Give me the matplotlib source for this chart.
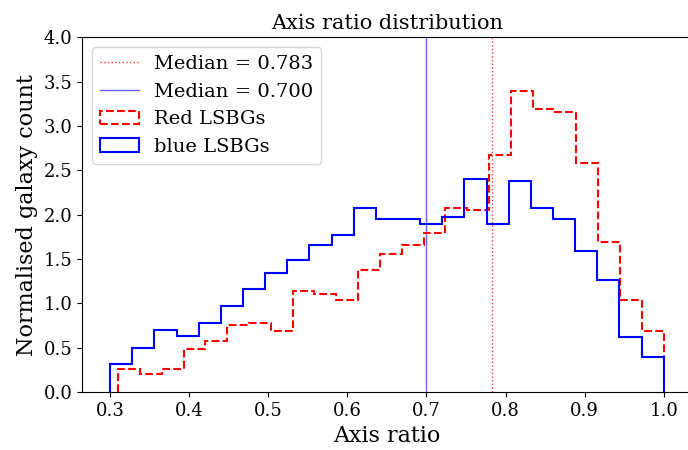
import numpy as np
import matplotlib
matplotlib.use("Agg")
import matplotlib.pyplot as plt

plt.rcParams["font.family"] = ["DejaVu Serif"]

# normalised histogram heights, 25 bins each
blue_lo, blue_hi = 0.30, 1.00
blue_counts = [0.31, 0.50, 0.70, 0.63, 0.78, 0.97, 1.16, 1.34, 1.49, 1.66,
               1.77, 2.07, 1.95, 1.95, 1.89, 1.97, 2.40, 1.89, 2.38, 2.08,
               1.95, 1.59, 1.26, 0.62, 0.39]

red_lo, red_hi = 0.31, 1.00
red_counts = [0.26, 0.20, 0.26, 0.48, 0.58, 0.75, 0.78, 0.69, 1.14, 1.11,
              1.04, 1.37, 1.56, 1.66, 1.79, 2.08, 2.05, 2.67, 3.39, 3.19,
              3.16, 2.58, 1.69, 1.04, 0.69]

red_median = 0.783
blue_median = 0.700

blue_edges = np.linspace(blue_lo, blue_hi, len(blue_counts) + 1)
red_edges = np.linspace(red_lo, red_hi, len(red_counts) + 1)

fig, ax = plt.subplots(figsize=(6.88, 4.5), dpi=100)
fig.subplots_adjust(left=0.1198, right=1.005, bottom=0.129, top=0.917)

ax.axvline(red_median, color="red", linestyle=":", linewidth=1, alpha=0.8,
           label=f"Median = {red_median:.3f}")
ax.axvline(blue_median, color="blue", linestyle="-", linewidth=1, alpha=0.6,
           label=f"Median = {blue_median:.3f}")
# step histograms built from the precomputed bin heights
ax.hist(red_edges[:-1], bins=red_edges, weights=red_counts, histtype="step",
        color="red", linestyle="--", linewidth=1.5, label="Red LSBGs")
ax.hist(blue_edges[:-1], bins=blue_edges, weights=blue_counts, histtype="step",
        color="blue", linewidth=1.5, label="blue LSBGs")

ax.set_xlim(0.265, 1.035)
ax.set_ylim(0, 4.0)
ax.set_yticks(np.arange(0, 4.01, 0.5))
ax.tick_params(labelsize=13)
ax.set_title("Axis ratio distribution", fontsize=15)
ax.set_xlabel("Axis ratio", fontsize=16)
ax.set_ylabel("Normalised galaxy count", fontsize=16)
ax.legend(loc="upper left", fontsize=14)

fig.savefig("out.png", dpi=100)
